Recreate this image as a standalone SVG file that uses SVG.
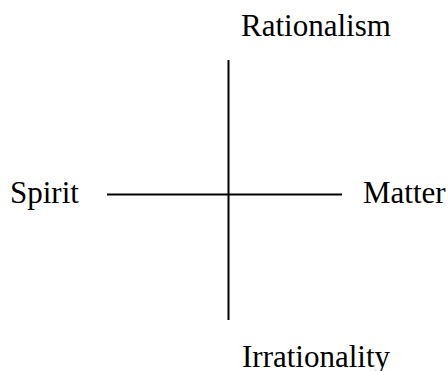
<svg xmlns="http://www.w3.org/2000/svg" width="448" height="371" viewBox="0 0 448 371">
<style>
text{font-family:"Liberation Serif","Times New Roman",serif;font-size:31px;fill:#000}
.ax{stroke:#000;stroke-width:2;fill:none}
</style>
<rect width="448" height="371" fill="#fff"/>
<g id="connectors">
<line class="ax" x1="228.5" y1="60" x2="228.5" y2="320"/>
<line class="ax" x1="107" y1="194.5" x2="342" y2="194.5"/>
</g>
<g id="rationalism"><text x="241" y="36">Rationalism</text></g>
<g id="spirit"><text x="10" y="203">Spirit</text></g>
<g id="matter"><text x="363" y="203">Matter</text></g>
<g id="irrationality"><text x="242" y="367">Irrationality</text></g>
</svg>
